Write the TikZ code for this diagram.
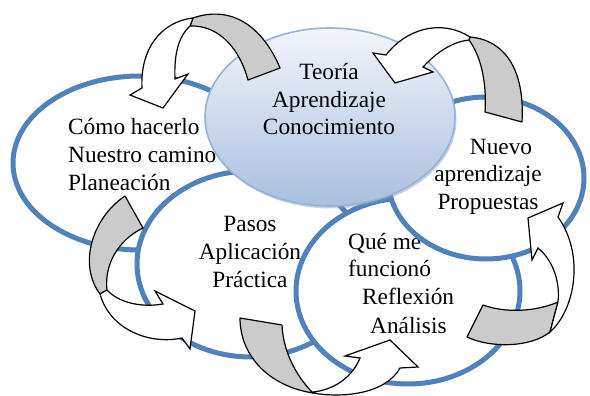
\documentclass[tikz,border=0pt]{standalone}
\usepackage{fontspec}
\setmainfont{Liberation Serif}
\usetikzlibrary{shapes.geometric}
\definecolor{ringblue}{HTML}{4F81BD}
\definecolor{coreedge}{HTML}{95B3D7}
\definecolor{coretop}{HTML}{F2F5FA}
\definecolor{corebot}{HTML}{A9C0DE}
\definecolor{coreshadow}{HTML}{8499B5}
\definecolor{bandgray}{HTML}{CBCBCB}
\begin{document}
\begin{tikzpicture}[x=1pt,y=-1pt,
  ring/.style={ellipse, draw=ringblue, line width=5pt, fill=white, inner sep=0pt},
  lbl/.style={inner sep=0pt, font=\fontsize{23.3}{27.5}\selectfont},
  backband/.style={draw=black, line width=1.2pt, fill=bandgray, line join=round},
  frontband/.style={draw=black, line width=1.2pt, fill=white, line join=miter}]
\useasboundingbox (0,0) rectangle (590,396);
\fill[white] (0,0) rectangle (590,396);

% left ellipse
\node[ring, minimum width=254pt, minimum height=174pt] (eleft) at (140,163) {};
\node[lbl, anchor=base west] (l1) at (68,135) {Cómo hacerlo};
\node[lbl, anchor=base west] (l2) at (68,163) {Nuestro camino};
\node[lbl, anchor=base west] (l3) at (68,190) {Planeación};

% pasos ellipse
\node[ring, minimum width=228pt, minimum height=186pt] (epasos) at (251,264) {};
\node[lbl, anchor=base] (p1) at (250,231) {Pasos};
\node[lbl, anchor=base] (p2) at (250,259) {Aplicación};
\node[lbl, anchor=base] (p3) at (250,287) {Práctica};

% que me ellipse
\node[ring, minimum width=224pt, minimum height=186pt] (eque) at (408,291) {};
\node[lbl, anchor=base west] (q1) at (348,249) {Qué me};
\node[lbl, anchor=base west] (q2) at (348,276) {funcionó};
\node[lbl, anchor=base west] (q3) at (362,304) {Reflexión};
\node[lbl, anchor=base west] (q4) at (370,333) {Análisis};

% nuevo ellipse
\node[ring, minimum width=196pt, minimum height=162pt] (enuevo) at (486,178) {};
\node[lbl, anchor=base] (n1) at (501,154) {Nuevo};
\node[lbl, anchor=base] (n2) at (488,182) {aprendizaje};
\node[lbl, anchor=base] (n3) at (488,209) {Propuestas};

% central ellipse
\fill[coreshadow, opacity=0.45] (331.5,119.5) ellipse [x radius=125pt, y radius=89pt];
\node[ellipse, minimum width=250pt, minimum height=178pt, inner sep=0pt,
      draw=coreedge, line width=1.6pt, top color=coretop, bottom color=corebot] (ecore) at (330,117) {};
\node[lbl, anchor=base] (c1) at (329,80) {Teoría};
\node[lbl, anchor=base] (c2) at (329,108) {Aprendizaje};
\node[lbl, anchor=base] (c3) at (329,135) {Conocimiento};

% arrow A (top left)
\draw[backband] (280,68) .. controls (262,25) and (230,5) .. (193,18) -- (190,26)
   .. controls (220,25) and (240,50) .. (248,80) -- cycle;
\draw[frontband] (193,18) .. controls (160,22) and (140,50) .. (142,88) -- (130,95) -- (163,108)
   -- (188,74) -- (175,79) .. controls (174,55) and (178,37) .. (190,26) -- cycle;

% arrow B (top right)
\draw[backband] (470,37) .. controls (505,40) and (525,70) .. (522,122) -- (485,112)
   .. controls (487,80) and (480,55) .. (469,40) -- cycle;
\draw[frontband] (470,37) .. controls (440,18) and (405,30) .. (386,55) -- (373,53) -- (395,83)
   -- (433,72) -- (423,67) .. controls (437,52) and (452,42) .. (469,40) -- cycle;

% arrow C (left)
\draw[backband] (125,196) .. controls (92,218) and (78,265) .. (100,294) -- (107,290)
   .. controls (104,265) and (118,240) .. (143,228) -- cycle;
\draw[frontband] (100,294) .. controls (110,330) and (150,345) .. (182,338) -- (190,349)
   -- (195,311) -- (155,291) -- (163,304) .. controls (140,308) and (118,302) .. (107,290) -- cycle;

% arrow D (bottom)
\draw[backband] (240,318) .. controls (240,355) and (268,386) .. (313,393)
   .. controls (295,375) and (283,350) .. (282,325) -- cycle;
\draw[frontband] (313,393) .. controls (340,398) and (385,395) .. (400,368) -- (418,367)
   -- (390,340) -- (345,356) -- (360,358) .. controls (352,378) and (333,390) .. (313,392) -- cycle;

% arrow E (right)
\draw[backband] (467,337) .. controls (490,348) and (530,348) .. (550,332) -- (558,302)
   .. controls (535,312) and (505,313) .. (483,305) -- cycle;
\draw[frontband] (550,332) .. controls (575,310) and (585,255) .. (558,217) -- (563,203)
   -- (528,218) -- (532,260) -- (538,248) .. controls (555,262) and (560,285) .. (558,302) -- cycle;
\end{tikzpicture}
\end{document}
